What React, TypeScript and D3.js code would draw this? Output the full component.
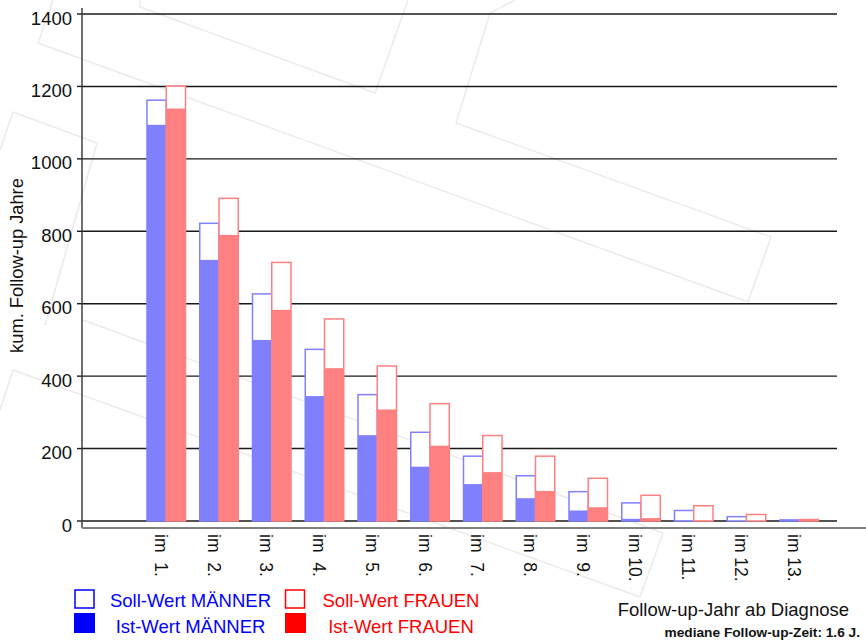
import React from "react";
import * as d3 from "d3";

// follow-up years (categories)
const years = ["1.", "2.", "3.", "4.", "5.", "6.", "7.", "8.", "9.", "10.", "11.", "12.", "13."];

// cumulative follow-up years
const sollMaenner = [1162, 822, 627, 474, 349, 245, 179, 125, 81, 50, 29, 12, 3];
const istMaenner = [1094, 721, 500, 345, 237, 150, 102, 63, 29, 6, 1, 0, 2];
const sollFrauen = [1201, 891, 714, 558, 428, 324, 236, 179, 118, 71, 42, 18, 4];
const istFrauen = [1139, 790, 583, 422, 308, 208, 135, 83, 38, 8, 1, 0, 2];

const yTicks = [0, 200, 400, 600, 800, 1000, 1200, 1400];

const FONT = "'Liberation Sans', Arial, Helvetica, sans-serif";
const BLUE = "#8080ff";
const RED = "#ff8080";

// faint background watermark strokes
const watermark: [number, number][][] = [
  [[140, 0], [140, 7], [375, 93], [408, 0]],
  [[53, 0], [38, 43], [748, 302], [771, 237], [456, 123], [490, 13], [515, 0]],
  [[0, 150], [13, 112], [97, 143], [45, 325]],
  [[0, 410], [13, 370], [640, 597], [663, 533], [83, 320]],
];

const App: React.FC = () => {
  const width = 866;
  const height = 640;
  const axisX = 82;
  const gridRight = 837;

  const y = d3.scaleLinear().domain([0, 1400]).range([521, 14]);
  const x = d3
    .scaleBand<string>()
    .domain(years)
    .range([147, 818.5])
    .paddingInner(0.27)
    .paddingOuter(0);
  const sub = d3.scaleBand<string>().domain(["m", "f"]).range([0, x.bandwidth()]);

  const line = d3.line();

  const bars = (
    soll: number[],
    ist: number[],
    key: string,
    color: string
  ) =>
    years.map((yr, i) => {
      const x0 = (x(yr) || 0) + (sub(key) || 0);
      const w = sub.bandwidth();
      return (
        <g key={key + yr}>
          <rect
            x={x0}
            y={y(soll[i])}
            width={w}
            height={y(0) - y(soll[i])}
            fill="#ffffff"
            stroke={color}
            strokeWidth={1.5}
          />
          {ist[i] > 0 && (
            <rect
              x={x0}
              y={y(ist[i])}
              width={w}
              height={y(0) - y(ist[i])}
              fill={color}
            />
          )}
        </g>
      );
    });

  return (
    <svg
      width={width}
      height={height}
      style={{ position: "absolute", left: 0, top: 0, background: "#fff" }}
      fontFamily={FONT}
    >
      {/* watermark */}
      {watermark.map((pts, i) => (
        <path key={i} d={line(pts) || ""} fill="none" stroke="#ebebeb" strokeWidth={1.5} />
      ))}

      {/* grid lines */}
      {yTicks.map((t) => (
        <g key={t}>
          <line x1={axisX} x2={gridRight} y1={y(t)} y2={y(t)} stroke="#1a1a1a" strokeWidth={1.4} />
          <line x1={axisX - 5} x2={axisX} y1={y(t)} y2={y(t)} stroke="#1a1a1a" strokeWidth={1.4} />
          <text x={72} y={y(t) + 10.5} textAnchor="end" fontSize={18.5} fill="#111">
            {t}
          </text>
        </g>
      ))}

      {/* bars */}
      {bars(sollMaenner, istMaenner, "m", BLUE)}
      {bars(sollFrauen, istFrauen, "f", RED)}

      {/* axes */}
      <line x1={axisX} x2={axisX} y1={8} y2={528} stroke="#333" strokeWidth={1.4} />
      <line x1={axisX} x2={width} y1={528} y2={528} stroke="#808080" strokeWidth={2} />

      {/* x labels */}
      {years.map((yr) => {
        const cx = (x(yr) || 0) + x.bandwidth() / 2 - 11.5;
        const cy = 534;
        return (
          <text
            key={yr}
            transform={`translate(${cx},${cy}) rotate(90)`}
            fontSize={17.5}
            fill="#111"
            xmlSpace="preserve"
            style={{ whiteSpace: "pre" }}
          >
            {`im ${yr.padStart(3, " ")}`}
          </text>
        );
      })}

      {/* y title */}
      <text
        transform="translate(23,265.5) rotate(-90)"
        textAnchor="middle"
        fontSize={18.3}
        fill="#111"
      >
        kum. Follow-up Jahre
      </text>

      {/* x title */}
      <text x={849} y={616} textAnchor="end" fontSize={18.5} fill="#111">
        Follow-up-Jahr ab Diagnose
      </text>
      <text x={860} y={637} textAnchor="end" fontSize={13.7} fontWeight="bold" fill="#111">
        mediane Follow-up-Zeit: 1.6 J.
      </text>

      {/* legend */}
      <rect x={75} y={590} width={19} height={18} fill="#fff" stroke="#0000ff" strokeWidth={1.5} />
      <rect x={74} y={613} width={21} height={20} fill="#0000ff" />
      <text x={190.5} y={606.5} textAnchor="middle" fontSize={18.5} fill="#0000ff">
        Soll-Wert MÄNNER
      </text>
      <text x={190.5} y={633} textAnchor="middle" fontSize={18.5} fill="#0000ff">
        Ist-Wert MÄNNER
      </text>
      <rect x={285.5} y={590} width={19} height={18} fill="#fff" stroke="#ff0000" strokeWidth={1.5} />
      <rect x={285} y={613} width={21} height={20} fill="#ff0000" />
      <text x={401} y={606.5} textAnchor="middle" fontSize={18.5} fill="#ff0000">
        Soll-Wert FRAUEN
      </text>
      <text x={401} y={633} textAnchor="middle" fontSize={18.5} fill="#ff0000">
        Ist-Wert FRAUEN
      </text>
    </svg>
  );
};

export default App;
